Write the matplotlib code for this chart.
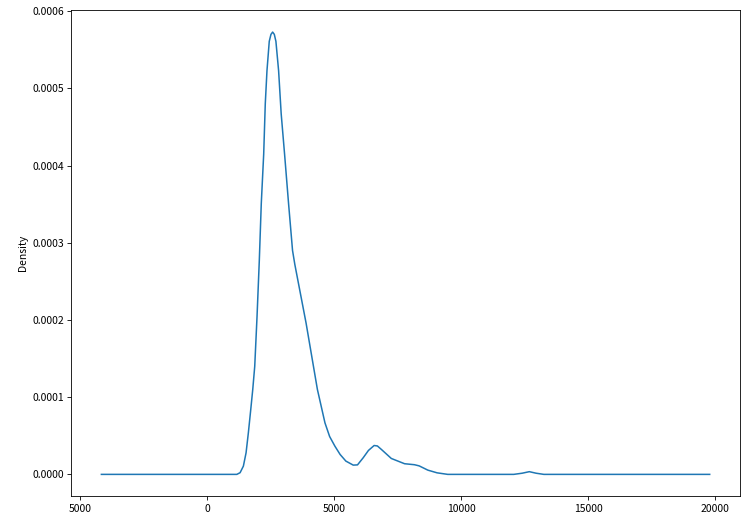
import matplotlib
matplotlib.use("Agg")
import matplotlib.pyplot as plt
from matplotlib.ticker import FixedLocator, FixedFormatter

plt.rcParams['font.family'] = ['Noto Sans CJK KR', 'DejaVu Sans']
plt.rcParams['axes.linewidth'] = 0.6
plt.rcParams['xtick.major.width'] = 0.6
plt.rcParams['ytick.major.width'] = 0.6
plt.rcParams['xtick.major.size'] = 2.6
plt.rcParams['ytick.major.size'] = 2.6

# KDE curve (value, density)
kde_x = [-4170, 0, 901, 1164, 1293, 1422, 1528, 1618, 1712, 1791, 1869, 1959,
         2049, 2127, 2222, 2284, 2351, 2441, 2508, 2574, 2640, 2703, 2809, 2911,
         3044, 3201, 3358, 3448, 3891, 4114, 4337, 4635, 4819, 5027, 5231, 5458,
         5748, 5916, 6140, 6347, 6571, 6700, 6857, 7248, 7769, 8161, 8345, 8686,
         9050, 9470, 12068, 12400, 12683, 12950, 13255, 19786]
kde_y = [0, 0, 0, 0, 0.0000022, 0.0000107, 0.000028, 0.0000538, 0.0000839,
         0.00011, 0.00014, 0.000204, 0.000277, 0.000351, 0.000415, 0.00048,
         0.000523, 0.000561, 0.00057, 0.000573, 0.00057, 0.000561, 0.000523,
         0.000467, 0.000415, 0.000351, 0.00029, 0.000272, 0.000196,
         0.000153, 0.00011, 0.0000667, 0.000049, 0.0000365, 0.0000258,
         0.0000172, 0.000012, 0.0000123, 0.0000215, 0.000031, 0.0000374,
         0.0000368, 0.0000323, 0.0000206, 0.0000138, 0.0000125, 0.000011,
         0.0000055, 0.000002, 0, 0, 0.0000015, 0.0000035, 0.0000015, 0, 0]

x_ticks = [-5000, 0, 5000, 10000, 15000, 20000]
x_tick_labels = ['5000', '0', '5000', '10000', '15000', '20000']
y_ticks = [0.0, 0.0001, 0.0002, 0.0003, 0.0004, 0.0005, 0.0006]

fig = plt.figure(figsize=(7.51, 5.24), dpi=100)
ax = fig.add_axes([0.0945, 0.0525, 0.891, 0.9285])
ax.plot(kde_x, kde_y, color='#1f77b4', linewidth=1.1)

ax.xaxis.set_major_locator(FixedLocator(x_ticks))
ax.xaxis.set_major_formatter(FixedFormatter(x_tick_labels))
ax.set_yticks(y_ticks)
ax.set_yticklabels([f"{v:.4f}" for v in y_ticks])
ax.tick_params(labelsize=7.5, pad=2.5)
ax.set_ylabel("Density", fontsize=7.5, labelpad=3)

fig.savefig("out.png", dpi=100)
